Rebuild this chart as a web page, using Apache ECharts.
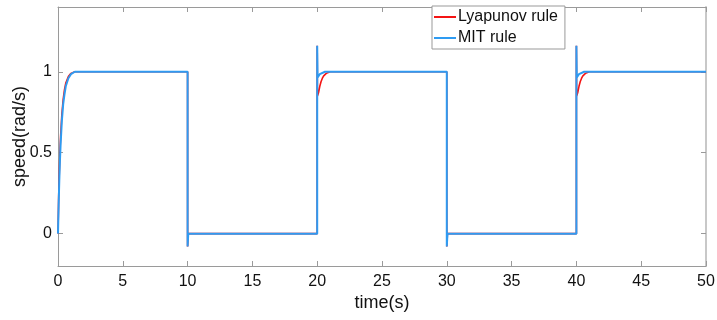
<!DOCTYPE html>
<html>
<head>
<meta charset="utf-8">
<script src="https://cdn.jsdelivr.net/npm/echarts@6/dist/echarts.min.js"></script>
<style>
  html, body { margin: 0; padding: 0; background: #fff; }
  #chart { width: 717px; height: 320px; }
</style>
</head>
<body>
<div id="chart"></div>
<script>
// Speed response of the adaptive controller, [time (s), speed (rad/s)]
const lyapunovRule = [
  [0, 0], [0.05, 0.22], [0.1, 0.38], [0.15, 0.5], [0.2, 0.6], [0.3, 0.74], [0.4, 0.83],
  [0.5, 0.89], [0.6, 0.93], [0.8, 0.97], [1.0, 0.99], [1.3, 1.0],
  [10, 1.0], [10, -0.08], [10.05, 0], [20, 0],
  [20, 1.16], [20.02, 0.85], [20.1, 0.87], [20.2, 0.91], [20.3, 0.94], [20.4, 0.96],
  [20.5, 0.975], [20.7, 0.99], [21, 1.0],
  [30, 1.0], [30, -0.08], [30.05, 0], [40, 0],
  [40, 1.16], [40.02, 0.85], [40.1, 0.87], [40.2, 0.91], [40.3, 0.94], [40.4, 0.96],
  [40.5, 0.975], [40.7, 0.99], [41, 1.0], [50, 1.0]
];
const mitRule = [
  [0, 0], [0.05, 0.18], [0.1, 0.33], [0.15, 0.45], [0.2, 0.55], [0.3, 0.7], [0.4, 0.8],
  [0.5, 0.86], [0.6, 0.91], [0.8, 0.96], [1.0, 0.985], [1.3, 1.0],
  [10, 1.0], [10, -0.08], [10.05, 0], [20, 0],
  [20, 1.16], [20.03, 0.965], [20.1, 0.975], [20.2, 0.985], [20.35, 0.995], [20.6, 1.0],
  [30, 1.0], [30, -0.08], [30.05, 0], [40, 0],
  [40, 1.16], [40.03, 0.965], [40.1, 0.975], [40.2, 0.985], [40.35, 0.995], [40.6, 1.0],
  [50, 1.0]
];
const yTicks = [0, 0.5, 1];

const FONT = 'Liberation Sans, Arial, sans-serif';
const AXIS_COLOR = '#9a9a9a';

const chart = echarts.init(document.getElementById('chart'), null, { renderer: 'canvas' });
chart.setOption({
  animation: false,
  backgroundColor: '#fff',
  grid: { left: 58, right: 11, top: 7, bottom: 54, outerBoundsMode: 'none', containLabel: false },
  legend: {
    orient: 'vertical',
    left: 432,
    top: 6,
    padding: [3, 7, 3, 2],
    borderColor: '#999',
    borderWidth: 1,
    backgroundColor: '#fff',
    icon: 'rect',
    itemWidth: 22,
    itemHeight: 2,
    itemGap: 5,
    textStyle: { fontFamily: FONT, fontSize: 16, color: '#111', padding: [0, 0, 0, -3] },
    data: ['Lyapunov rule', 'MIT rule']
  },
  xAxis: [{
    type: 'value', min: 0, max: 50, interval: 5,
    name: 'time(s)', nameLocation: 'middle', nameGap: 28, nameMoveOverlap: false,
    nameTextStyle: { fontFamily: FONT, fontSize: 18, color: '#111' },
    axisLine: { onZero: false, lineStyle: { color: AXIS_COLOR, width: 1 } },
    axisTick: { inside: true, length: 5, lineStyle: { color: AXIS_COLOR } },
    axisLabel: { fontFamily: FONT, fontSize: 16, color: '#111', margin: 8 },
    splitLine: { show: false }
  }, {
    type: 'value', min: 0, max: 50, interval: 5, position: 'top',
    axisLine: { show: true, onZero: false, lineStyle: { color: AXIS_COLOR, width: 1 } },
    axisTick: { show: true, inside: true, length: 5, lineStyle: { color: AXIS_COLOR } },
    axisLabel: { show: false },
    splitLine: { show: false }
  }],
  yAxis: [{
    type: 'value', min: -0.2, max: 1.4,
    name: 'speed(rad/s)', nameLocation: 'middle', nameGap: 29, nameMoveOverlap: false,
    nameTextStyle: { fontFamily: FONT, fontSize: 18, color: '#111' },
    axisLine: { show: true, onZero: false, lineStyle: { color: AXIS_COLOR, width: 1 } },
    axisTick: { show: true, inside: true, length: 5, customValues: yTicks, lineStyle: { color: AXIS_COLOR } },
    axisLabel: { fontFamily: FONT, fontSize: 16, color: '#111', margin: 6, customValues: yTicks },
    splitLine: { show: false }
  }, {
    type: 'value', min: -0.2, max: 1.4, position: 'right',
    axisLine: { show: true, onZero: false, lineStyle: { color: '#c8c8c8', width: 2 } },
    axisTick: { show: true, inside: true, length: 5, customValues: yTicks, lineStyle: { color: AXIS_COLOR } },
    axisLabel: { show: false, customValues: yTicks },
    splitLine: { show: false }
  }],
  series: [{
    name: 'Lyapunov rule', type: 'line', data: lyapunovRule,
    showSymbol: false, symbol: 'none',
    lineStyle: { color: '#f41414', width: 1.6 },
    itemStyle: { color: '#f41414' },
    z: 2
  }, {
    name: 'MIT rule', type: 'line', data: mitRule,
    showSymbol: false, symbol: 'none',
    lineStyle: { color: '#2e9bf2', width: 2 },
    itemStyle: { color: '#2e9bf2' },
    z: 3
  }]
});
</script>
</body>
</html>
